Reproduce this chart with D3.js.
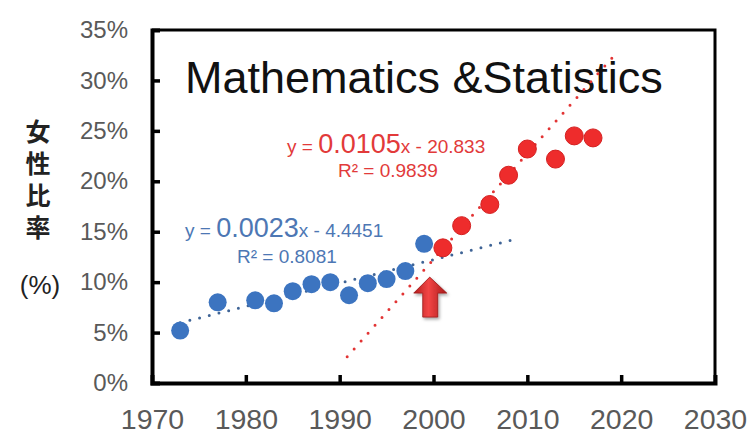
<!DOCTYPE html>
<html>
<head>
<meta charset="utf-8">
<script src="https://cdn.jsdelivr.net/npm/d3@7"></script>
<style>
  html, body { margin: 0; padding: 0; background: #fff; }
  svg { display: block; }
</style>
</head>
<body>
<svg id="chart" width="751" height="437"></svg>
<script>
// Share of women (女性比率) in Mathematics & Statistics, by year
const blueYears = [1973, 1977, 1981, 1983, 1985, 1987, 1989, 1991, 1993, 1995, 1997, 1999];
const blueShare = [0.052, 0.080, 0.082, 0.079, 0.091, 0.098, 0.100, 0.087, 0.099, 0.103, 0.111, 0.138];
const redYears  = [2001, 2003, 2006, 2008, 2010, 2013, 2015, 2017];
const redShare  = [0.134, 0.156, 0.177, 0.206, 0.232, 0.222, 0.245, 0.243];

const xTicks = [1970, 1980, 1990, 2000, 2010, 2020, 2030];
const yTicks = [0, 0.05, 0.10, 0.15, 0.20, 0.25, 0.30, 0.35];

// trend lines
const blueTrendSpan = [1973, 2008.5];
const redTrendSlope = 0.0105;
const redTrendStart = [1990.8, 0.026];
const redTrendEnd = 2019.4;

const blueEquation = ["y = ", "0.0023", "x - 4.4451"];
const blueR2 = "R² = 0.8081";
const redEquation = ["y = ", "0.0105", "x - 20.833"];
const redR2 = "R² = 0.9839";

const titleText = "Mathematics &Statistics";
const yTitle = "女性比率";
const yUnit = "(%)";
const arrowTip = [1999.6, 0.105];

const W = 751, H = 437;
const margin = { top: 30, right: 36, bottom: 54, left: 152 };
const svg = d3.select("#chart");

const x = d3.scaleLinear().domain([1970, 2030]).range([margin.left, W - margin.right]);
const y = d3.scaleLinear().domain([0, 0.35]).range([H - margin.bottom, margin.top]);

const FONT = "'Liberation Sans', Arial, Helvetica, sans-serif";
const BLUE = "#3c74c0", RED = "#ee2c2c";

// plot frame (top and right edges)
svg.append("path")
  .attr("d", `M${x(1970)},${y(0.35)}H${x(2030)}V${y(0)}`)
  .attr("fill", "none").attr("stroke", "#000").attr("stroke-width", 3);

// axes
const yAxis = svg.append("g")
  .attr("transform", `translate(${x(1970)},0)`)
  .call(d3.axisLeft(y).tickValues(yTicks).tickSize(-8).tickPadding(24)
    .tickFormat(d => Math.round(d * 100) + "%"));
const xAxis = svg.append("g")
  .attr("transform", `translate(0,${y(0)})`)
  .call(d3.axisBottom(x).tickValues(xTicks).tickSize(-8).tickPadding(26)
    .tickFormat(d3.format("d")));

[yAxis, xAxis].forEach(g => {
  g.select(".domain").attr("stroke", "#000").attr("stroke-width", 4);
  g.selectAll(".tick line").attr("stroke", "#000").attr("stroke-width", 3.5);
  g.selectAll(".tick text").attr("fill", "#595959").attr("font-family", FONT);
});
yAxis.selectAll(".tick text").attr("font-size", 24);
xAxis.selectAll(".tick text").attr("font-size", 28.5);
xAxis.selectAll(".tick").filter(d => d === 1970 || d === 2030).select("line").remove();
yAxis.selectAll(".tick").filter(d => d === 0 || d === 0.35).select("line").remove();

// title
svg.append("text")
  .attr("x", 185).attr("y", 93)
  .attr("font-family", FONT).attr("font-size", 45).attr("fill", "#111")
  .text(titleText);

// y-axis title, written top to bottom
svg.append("text")
  .attr("x", 38).attr("y", 119)
  .attr("writing-mode", "vertical-rl")
  .style("text-orientation", "upright")
  .attr("letter-spacing", 7)
  .attr("font-family", "'Noto Sans CJK JP', sans-serif")
  .attr("font-weight", "bold").attr("font-size", 25).attr("fill", "#222")
  .text(yTitle);
svg.append("text")
  .attr("x", 40).attr("y", 294).attr("text-anchor", "middle")
  .attr("font-family", FONT).attr("font-size", 26).attr("fill", "#222")
  .text(yUnit);

// least-squares fit of the blue series
const mx = d3.mean(blueYears), my = d3.mean(blueShare);
const slope = d3.sum(blueYears, (v, i) => (v - mx) * (blueShare[i] - my)) /
              d3.sum(blueYears, v => (v - mx) ** 2);
const blueFit = t => my + slope * (t - mx);
const blueTrend = blueTrendSpan.map(t => [t, blueFit(t)]);
const redTrend = [redTrendStart,
  [redTrendEnd, redTrendStart[1] + redTrendSlope * (redTrendEnd - redTrendStart[0])]];

const line = d3.line().x(d => x(d[0])).y(d => y(d[1]));
svg.append("path").attr("d", line(blueTrend))
  .attr("fill", "none").attr("stroke", "#3f6496").attr("stroke-width", 3)
  .attr("stroke-linecap", "round").attr("stroke-dasharray", "0 10");
svg.append("path").attr("d", line(redTrend))
  .attr("fill", "none").attr("stroke", "#e23434").attr("stroke-width", 3)
  .attr("stroke-linecap", "round").attr("stroke-dasharray", "0 10.5");

// points
svg.append("g").selectAll("circle")
  .data(blueYears.map((t, i) => [t, blueShare[i]])).join("circle")
  .attr("cx", d => x(d[0])).attr("cy", d => y(d[1])).attr("r", 9)
  .attr("fill", BLUE);
svg.append("g").selectAll("circle")
  .data(redYears.map((t, i) => [t, redShare[i]])).join("circle")
  .attr("cx", d => x(d[0])).attr("cy", d => y(d[1])).attr("r", 9)
  .attr("fill", RED).attr("stroke", "#d42020").attr("stroke-width", 1);

// regression labels
function equation(parts, color, x0, yBase) {
  const t = svg.append("text").attr("x", x0).attr("y", yBase)
    .attr("font-family", FONT).attr("fill", color);
  t.append("tspan").attr("font-size", 19).text(parts[0]);
  t.append("tspan").attr("font-size", 27).text(parts[1]);
  t.append("tspan").attr("font-size", 19).text(parts[2]);
  return t;
}
equation(blueEquation, "#4d77b4", 185, 237);
svg.append("text").attr("x", 237).attr("y", 263)
  .attr("font-family", FONT).attr("font-size", 19).attr("fill", "#4d77b4").text(blueR2);
equation(redEquation, "#e23a3a", 287, 153);
svg.append("text").attr("x", 338).attr("y", 177)
  .attr("font-family", FONT).attr("font-size", 19).attr("fill", "#e23a3a").text(redR2);

// arrow marking the year 2000 transition
const defs = svg.append("defs");
const grad = defs.append("linearGradient").attr("id", "arrowFill")
  .attr("x1", "0%").attr("x2", "100%").attr("y1", "0%").attr("y2", "0%");
grad.append("stop").attr("offset", "0%").attr("stop-color", "#b31d1d");
grad.append("stop").attr("offset", "45%").attr("stop-color", "#f24545");
grad.append("stop").attr("offset", "100%").attr("stop-color", "#a81818");
const shadow = defs.append("filter").attr("id", "arrowShadow")
  .attr("x", "-50%").attr("y", "-50%").attr("width", "200%").attr("height", "200%");
shadow.append("feDropShadow").attr("dx", 1.5).attr("dy", 2).attr("stdDeviation", 1.5)
  .attr("flood-color", "#000").attr("flood-opacity", 0.35);

const ax = x(arrowTip[0]), ay = y(arrowTip[1]);
svg.append("path")
  .attr("d", `M${ax},${ay} L${ax + 17},${ay + 16} L${ax + 8},${ay + 16} L${ax + 8},${ay + 40}
              L${ax - 7},${ay + 40} L${ax - 7},${ay + 16} L${ax - 16},${ay + 16} Z`)
  .attr("fill", "url(#arrowFill)").attr("stroke", "#9a1a1a").attr("stroke-width", 0.8)
  .attr("filter", "url(#arrowShadow)");
</script>
</body>
</html>
